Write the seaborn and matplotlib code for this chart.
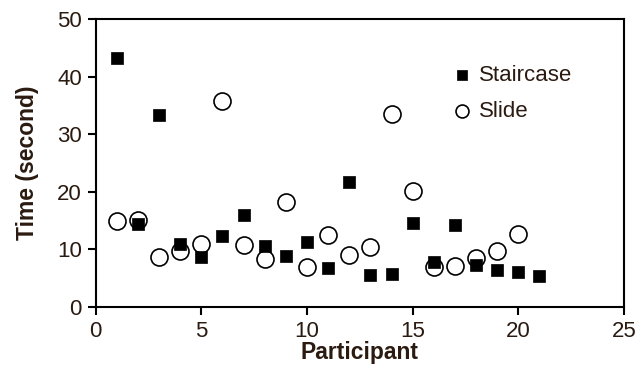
import numpy as np
import pandas as pd
import matplotlib
matplotlib.use("Agg")
import matplotlib.pyplot as plt
import seaborn as sns

# Values
participant_stair = list(range(1, 22))
staircase = [43.3, 14.4, 33.3, 11.0, 8.7, 12.3, 16.0, 10.6, 8.9, 11.3,
             6.8, 21.8, 5.6, 5.7, 14.6, 7.8, 14.2, 7.3, 6.5, 6.1, 5.3]
participant_slide = list(range(1, 21))
slide = [15.0, 15.1, 8.6, 9.8, 10.9, 35.8, 10.8, 8.3, 18.2, 6.9,
         12.5, 9.0, 10.5, 33.6, 20.2, 6.9, 7.2, 8.5, 9.8, 12.6]

x_ticks = [0, 5, 10, 15, 20, 25]
y_ticks = [0, 10, 20, 30, 40, 50]

text_color = "#2a1a10"

sns.set_theme(style="ticks")
plt.rcParams['font.family'] = ['Liberation Sans', 'DejaVu Sans']

fig = plt.figure(figsize=(6.38, 3.76), dpi=100)
ax = fig.add_axes([0.150, 0.1835, 0.828, 0.7655])

df_stair = pd.DataFrame({"Participant": participant_stair, "Time": staircase})
df_slide = pd.DataFrame({"Participant": participant_slide, "Time": slide})

sns.scatterplot(data=df_slide, x="Participant", y="Time", ax=ax, marker="o",
                s=150, facecolor="white", edgecolor="black", linewidth=1.2,
                label="Slide", zorder=2)
sns.scatterplot(data=df_stair, x="Participant", y="Time", ax=ax, marker="s",
                s=80, color="black", edgecolor="black", linewidth=0.5,
                label="Staircase", zorder=3)

ax.set_xlim(0, 25)
ax.set_ylim(0, 50)
ax.set_xticks(x_ticks)
ax.set_yticks(y_ticks)
ax.tick_params(direction="out", length=6, width=1.5, labelsize=16, pad=4,
               colors="black", labelcolor=text_color)
for side in ["left", "bottom", "top", "right"]:
    ax.spines[side].set_visible(True)
    ax.spines[side].set_linewidth(1.5)
    ax.spines[side].set_color("black")

ax.set_xlabel("Participant", fontsize=16.5, fontweight="bold", color=text_color, labelpad=-1)
ax.set_ylabel("Time (second)", fontsize=16.5, fontweight="bold", color=text_color, labelpad=13)

handles, labels = ax.get_legend_handles_labels()
order = [labels.index("Staircase"), labels.index("Slide")]
leg = ax.legend([handles[i] for i in order], [labels[i] for i in order],
                loc="center left", bbox_to_anchor=(0.672, 0.742), frameon=False,
                fontsize=16, handlelength=1.0, handletextpad=0.27, labelspacing=0.65,
                markerscale=0.76, borderpad=0, borderaxespad=0)
for t in leg.get_texts():
    t.set_color(text_color)

fig.savefig("out.png", dpi=100)
